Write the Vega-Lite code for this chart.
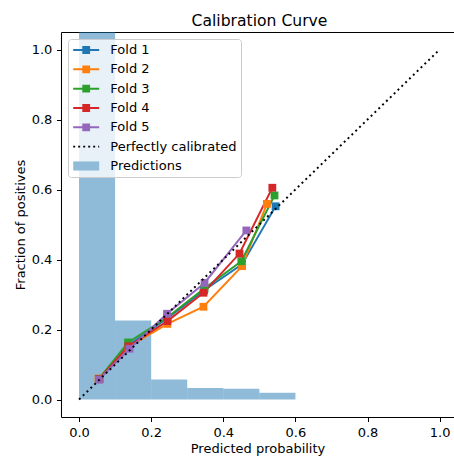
{
  "$schema": "https://vega.github.io/schema/vega-lite/v6.json",
  "width": 393,
  "height": 385,
  "autosize": {"type": "none"},
  "padding": {"left": 61, "top": 32, "right": 0, "bottom": 42},
  "title": {"text": "Calibration Curve", "fontSize": 15.6, "fontWeight": "normal", "anchor": "middle", "baseline": "alphabetic", "offset": 6.5, "dx": 2, "dy": 16.5, "color": "black", "frame": "group"},
  "config": {
    "font": "DejaVu Sans",
    "view": {"stroke": null},
    "axis": {"grid": false, "domainColor": "black", "domainWidth": 1.04, "tickColor": "black", "tickWidth": 1.04, "tickSize": 4.55, "labelPadding": 4.55, "labelFontSize": 13, "labelColor": "black", "titleFontSize": 13, "titleFontWeight": "normal", "titleColor": "black", "labelFont": "DejaVu Sans", "titleFont": "DejaVu Sans"},
    "legend": {"orient": "top-left", "offset": 7, "padding": 4, "symbolSize": 196, "symbolOffset": 7.2, "labelOffset": 17.1, "rowPadding": 5.33, "labelFontSize": 13, "labelColor": "black", "labelFont": "DejaVu Sans", "labelBaseline": "middle", "strokeColor": "#cccccc", "fillColor": "rgba(255,255,255,0.8)", "cornerRadius": 3, "symbolStrokeWidth": 0, "symbolOpacity": 1, "titlePadding": 0}
  },
  "resolve": {"axis": {"x": "independent", "y": "independent"}},
  "layer": [
    {
      "data": {"values": [
        {"pred": 0.0, "pred_end": 0.1, "frac": 1.6},
        {"pred": 0.1, "pred_end": 0.2, "frac": 0.226},
        {"pred": 0.2, "pred_end": 0.3, "frac": 0.057},
        {"pred": 0.3, "pred_end": 0.4, "frac": 0.033},
        {"pred": 0.4, "pred_end": 0.5, "frac": 0.031},
        {"pred": 0.5, "pred_end": 0.6, "frac": 0.019}
      ]},
      "mark": {"type": "rect", "color": "#1f77b4", "opacity": 0.5, "clip": true},
      "encoding": {
        "x": {"field": "pred", "type": "quantitative", "scale": {"domain": [-0.05, 1.0397], "nice": false, "zero": false}, "axis": {"orient": "bottom", "values": [0, 0.2, 0.4, 0.6, 0.8, 1.0], "format": ".1f", "title": "Predicted probability", "titlePadding": 3}},
        "x2": {"field": "pred_end"},
        "y": {"field": "frac", "type": "quantitative", "scale": {"domain": [-0.05, 1.05], "nice": false, "zero": false}, "axis": {"orient": "left", "values": [0, 0.2, 0.4, 0.6, 0.8, 1.0], "format": ".1f", "title": "Fraction of positives", "titlePadding": 3.5}},
        "y2": {"datum": 0}
      }
    },
    {
      "data": {"name": "folds", "values": [
        {"fold": "Fold 1", "pred": 0.057, "frac": 0.058},
        {"fold": "Fold 1", "pred": 0.137, "frac": 0.155},
        {"fold": "Fold 1", "pred": 0.245, "frac": 0.232},
        {"fold": "Fold 1", "pred": 0.347, "frac": 0.312},
        {"fold": "Fold 1", "pred": 0.452, "frac": 0.386},
        {"fold": "Fold 1", "pred": 0.545, "frac": 0.552},
        {"fold": "Fold 2", "pred": 0.054, "frac": 0.06},
        {"fold": "Fold 2", "pred": 0.137, "frac": 0.15},
        {"fold": "Fold 2", "pred": 0.245, "frac": 0.216},
        {"fold": "Fold 2", "pred": 0.345, "frac": 0.265},
        {"fold": "Fold 2", "pred": 0.452, "frac": 0.381},
        {"fold": "Fold 2", "pred": 0.521, "frac": 0.559},
        {"fold": "Fold 3", "pred": 0.055, "frac": 0.059},
        {"fold": "Fold 3", "pred": 0.136, "frac": 0.163},
        {"fold": "Fold 3", "pred": 0.245, "frac": 0.235},
        {"fold": "Fold 3", "pred": 0.348, "frac": 0.318},
        {"fold": "Fold 3", "pred": 0.45, "frac": 0.395},
        {"fold": "Fold 3", "pred": 0.542, "frac": 0.583},
        {"fold": "Fold 4", "pred": 0.055, "frac": 0.058},
        {"fold": "Fold 4", "pred": 0.137, "frac": 0.152},
        {"fold": "Fold 4", "pred": 0.245, "frac": 0.224},
        {"fold": "Fold 4", "pred": 0.345, "frac": 0.305},
        {"fold": "Fold 4", "pred": 0.445, "frac": 0.417},
        {"fold": "Fold 4", "pred": 0.536, "frac": 0.605},
        {"fold": "Fold 5", "pred": 0.055, "frac": 0.057},
        {"fold": "Fold 5", "pred": 0.14, "frac": 0.145},
        {"fold": "Fold 5", "pred": 0.244, "frac": 0.245},
        {"fold": "Fold 5", "pred": 0.348, "frac": 0.333},
        {"fold": "Fold 5", "pred": 0.464, "frac": 0.483}
      ]},
      "layer": [
        {
          "mark": {"type": "line", "strokeWidth": 1.95},
          "encoding": {
            "x": {"field": "pred", "type": "quantitative", "scale": {"domain": [-0.05, 1.0397], "nice": false, "zero": false}, "axis": null},
            "y": {"field": "frac", "type": "quantitative", "scale": {"domain": [-0.05, 1.05], "nice": false, "zero": false}, "axis": null},
            "color": {"field": "fold", "type": "nominal", "scale": {"domain": ["Fold 1", "Fold 2", "Fold 3", "Fold 4", "Fold 5"], "range": ["#1f77b4", "#ff7f0e", "#2ca02c", "#d62728", "#9467bd"]}, "legend": null}
          }
        },
        {
          "mark": {"type": "point", "shape": "square", "filled": true, "size": 61, "opacity": 1, "strokeWidth": 0},
          "encoding": {
            "x": {"field": "pred", "type": "quantitative", "scale": {"domain": [-0.05, 1.0397], "nice": false, "zero": false}, "axis": null},
            "y": {"field": "frac", "type": "quantitative", "scale": {"domain": [-0.05, 1.05], "nice": false, "zero": false}, "axis": null},
            "color": {"field": "fold", "type": "nominal", "scale": {"domain": ["Fold 1", "Fold 2", "Fold 3", "Fold 4", "Fold 5"], "range": ["#1f77b4", "#ff7f0e", "#2ca02c", "#d62728", "#9467bd"]}, "legend": null}
          }
        }
      ]
    },
    {
      "data": {"values": [{"pred": 0, "frac": 0}, {"pred": 1, "frac": 1}]},
      "mark": {"type": "line", "color": "black", "strokeWidth": 1.95, "strokeDash": [1.95, 3.4], "strokeCap": "butt"},
      "encoding": {
        "x": {"field": "pred", "type": "quantitative", "scale": {"domain": [-0.05, 1.0397], "nice": false, "zero": false}, "axis": {"orient": "top", "labels": false, "ticks": false, "title": null, "domain": true}},
        "y": {"field": "frac", "type": "quantitative", "scale": {"domain": [-0.05, 1.05], "nice": false, "zero": false}, "axis": null}
      }
    },
    {
      "data": {"values": []},
      "mark": {"type": "point", "filled": true, "opacity": 1, "size": 196, "strokeWidth": 0},
      "encoding": {
        "fill": {"field": "series", "type": "nominal", "title": null, "scale": {"domain": ["Fold 1", "Fold 2", "Fold 3", "Fold 4", "Fold 5", "Perfectly calibrated", "Predictions"], "range": ["#1f77b4", "#ff7f0e", "#2ca02c", "#d62728", "#9467bd", "black", "#8fbbd9"]}},
        "shape": {"field": "series", "type": "nominal", "title": null, "scale": {"domain": ["Fold 1", "Fold 2", "Fold 3", "Fold 4", "Fold 5", "Perfectly calibrated", "Predictions"], "range": [
          "M-1.857,-0.139H1.857V0.139H-1.857Z M-0.557,-0.557H0.557V0.557H-0.557Z",
          "M-1.857,-0.139H1.857V0.139H-1.857Z M-0.557,-0.557H0.557V0.557H-0.557Z",
          "M-1.857,-0.139H1.857V0.139H-1.857Z M-0.557,-0.557H0.557V0.557H-0.557Z",
          "M-1.857,-0.139H1.857V0.139H-1.857Z M-0.557,-0.557H0.557V0.557H-0.557Z",
          "M-1.857,-0.139H1.857V0.139H-1.857Z M-0.557,-0.557H0.557V0.557H-0.557Z",
          "M-1.857,-0.139h0.28v0.278h-0.28Z M-1.143,-0.139h0.28v0.278h-0.28Z M-0.429,-0.139h0.28v0.278h-0.28Z M0.285,-0.139h0.28v0.278h-0.28Z M0.999,-0.139h0.28v0.278h-0.28Z M1.713,-0.139h0.144v0.278h-0.144Z",
          "M-1.857,-0.65H1.857V0.65H-1.857Z"
        ]}}
      }
    }
  ]
}
